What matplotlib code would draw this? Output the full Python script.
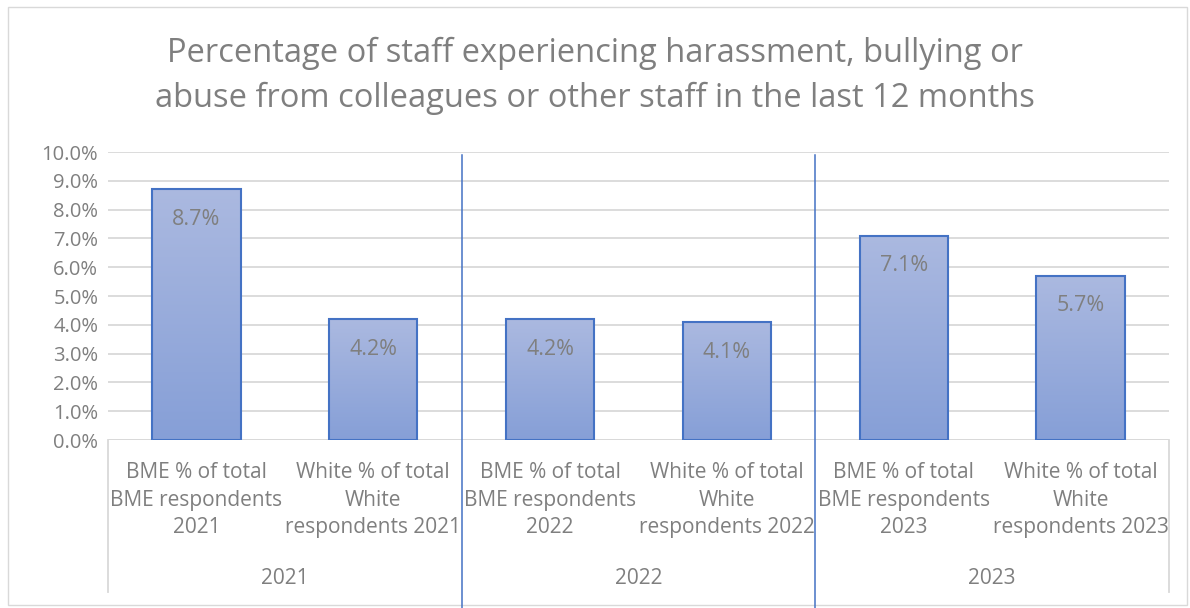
import numpy as np
import matplotlib
matplotlib.use("Agg")
import matplotlib.pyplot as plt
import matplotlib.transforms as mtransforms
from matplotlib.patches import Rectangle

plt.rcParams['font.family'] = ['Open Sans', 'DejaVu Sans']

title = "Percentage of staff experiencing harassment, bullying or\nabuse from colleagues or other staff in the last 12 months"
categories = ["BME % of total\nBME respondents\n2021", "White % of total\nWhite\nrespondents 2021",
              "BME % of total\nBME respondents\n2022", "White % of total\nWhite\nrespondents 2022",
              "BME % of total\nBME respondents\n2023", "White % of total\nWhite\nrespondents 2023"]
years = ["2021", "2022", "2023"]
values = [8.7, 4.2, 4.2, 4.1, 7.1, 5.7]
value_labels = ["8.7%", "4.2%", "4.2%", "4.1%", "7.1%", "5.7%"]
yticks = [0, 1, 2, 3, 4, 5, 6, 7, 8, 9, 10]

TEXT = "#7f7f7f"
GRID = "#d9d9d9"
EDGE = "#4472c4"

fig = plt.figure(figsize=(11.9, 6.08), dpi=100)
fig.patches.append(Rectangle((8/1190, 3/608), 1179/1190, 598/608, transform=fig.transFigure,
                             fill=False, edgecolor=GRID, linewidth=1))
ax = fig.add_axes([108/1190, (608-440)/608, (1169-108)/1190, (440-152)/608])

x = np.arange(len(values))
ax.set_xlim(-0.5, len(values) - 0.5)
ax.set_ylim(0, 10)
ax.set_yticks(yticks)
ax.set_yticklabels([f"{t:.1f}%" for t in yticks], color=TEXT, fontsize=14.5)
ax.tick_params(axis='y', length=0, pad=7)
ax.set_xticks([])
for s in ax.spines.values():
    s.set_visible(False)
ax.yaxis.grid(True, color=GRID, linewidth=1.3)
ax.set_axisbelow(True)

grad = np.linspace(0, 1, 256).reshape(-1, 1)
top_c = np.array([0xab, 0xb9, 0xe0]) / 255
bot_c = np.array([0x86, 0x9f, 0xd7]) / 255
img = top_c[None, None, :] * (1 - grad[:, :, None]) + bot_c[None, None, :] * grad[:, :, None]

bars = ax.bar(x, values, width=0.5, color="none", edgecolor=EDGE, linewidth=1.5, zorder=3)
for b, v, lab in zip(bars, values, value_labels):
    bx, by, bw, bh = b.get_x(), b.get_y(), b.get_width(), b.get_height()
    im = ax.imshow(img, extent=[bx, bx + bw, by, by + bh], aspect='auto', zorder=2)
    im.set_clip_path(Rectangle((bx, by), bw, bh, transform=ax.transData))
    ax.text(b.get_x() + bw / 2, v - 0.68, lab, ha='center', va='top', color=TEXT, fontsize=15.5, zorder=4)
ax.set_xlim(-0.5, len(values) - 0.5)
ax.set_ylim(0, 10)

# category axis
trans = mtransforms.blended_transform_factory(ax.transData, fig.transFigure)
ax.axhline(0, color=GRID, linewidth=1.3, zorder=1)
for xb in [-0.5, len(values) - 0.5]:
    fig.add_artist(plt.Line2D([xb, xb], [(608-440)/608, (608-592)/608], transform=trans, color=GRID, linewidth=1.3))
for xb in [1.5, 3.5]:
    fig.add_artist(plt.Line2D([xb, xb], [(608-155)/608, 0], transform=trans, color=EDGE, linewidth=1.1))

for xi, c in zip(x, categories):
    ax.text(xi, (608-462)/608, c, transform=trans, ha='center', va='top', color=TEXT, fontsize=15, linespacing=1.42)
for gi, yr in enumerate(years):
    ax.text(2 * gi + 0.5, (608-578)/608, yr, transform=trans, ha='center', va='center', color=TEXT, fontsize=15)

fig.text(595/1190, (608-76)/608, title, ha='center', va='center', color=TEXT, fontsize=23.5, linespacing=1.48)

fig.savefig("out.png", dpi=100)
